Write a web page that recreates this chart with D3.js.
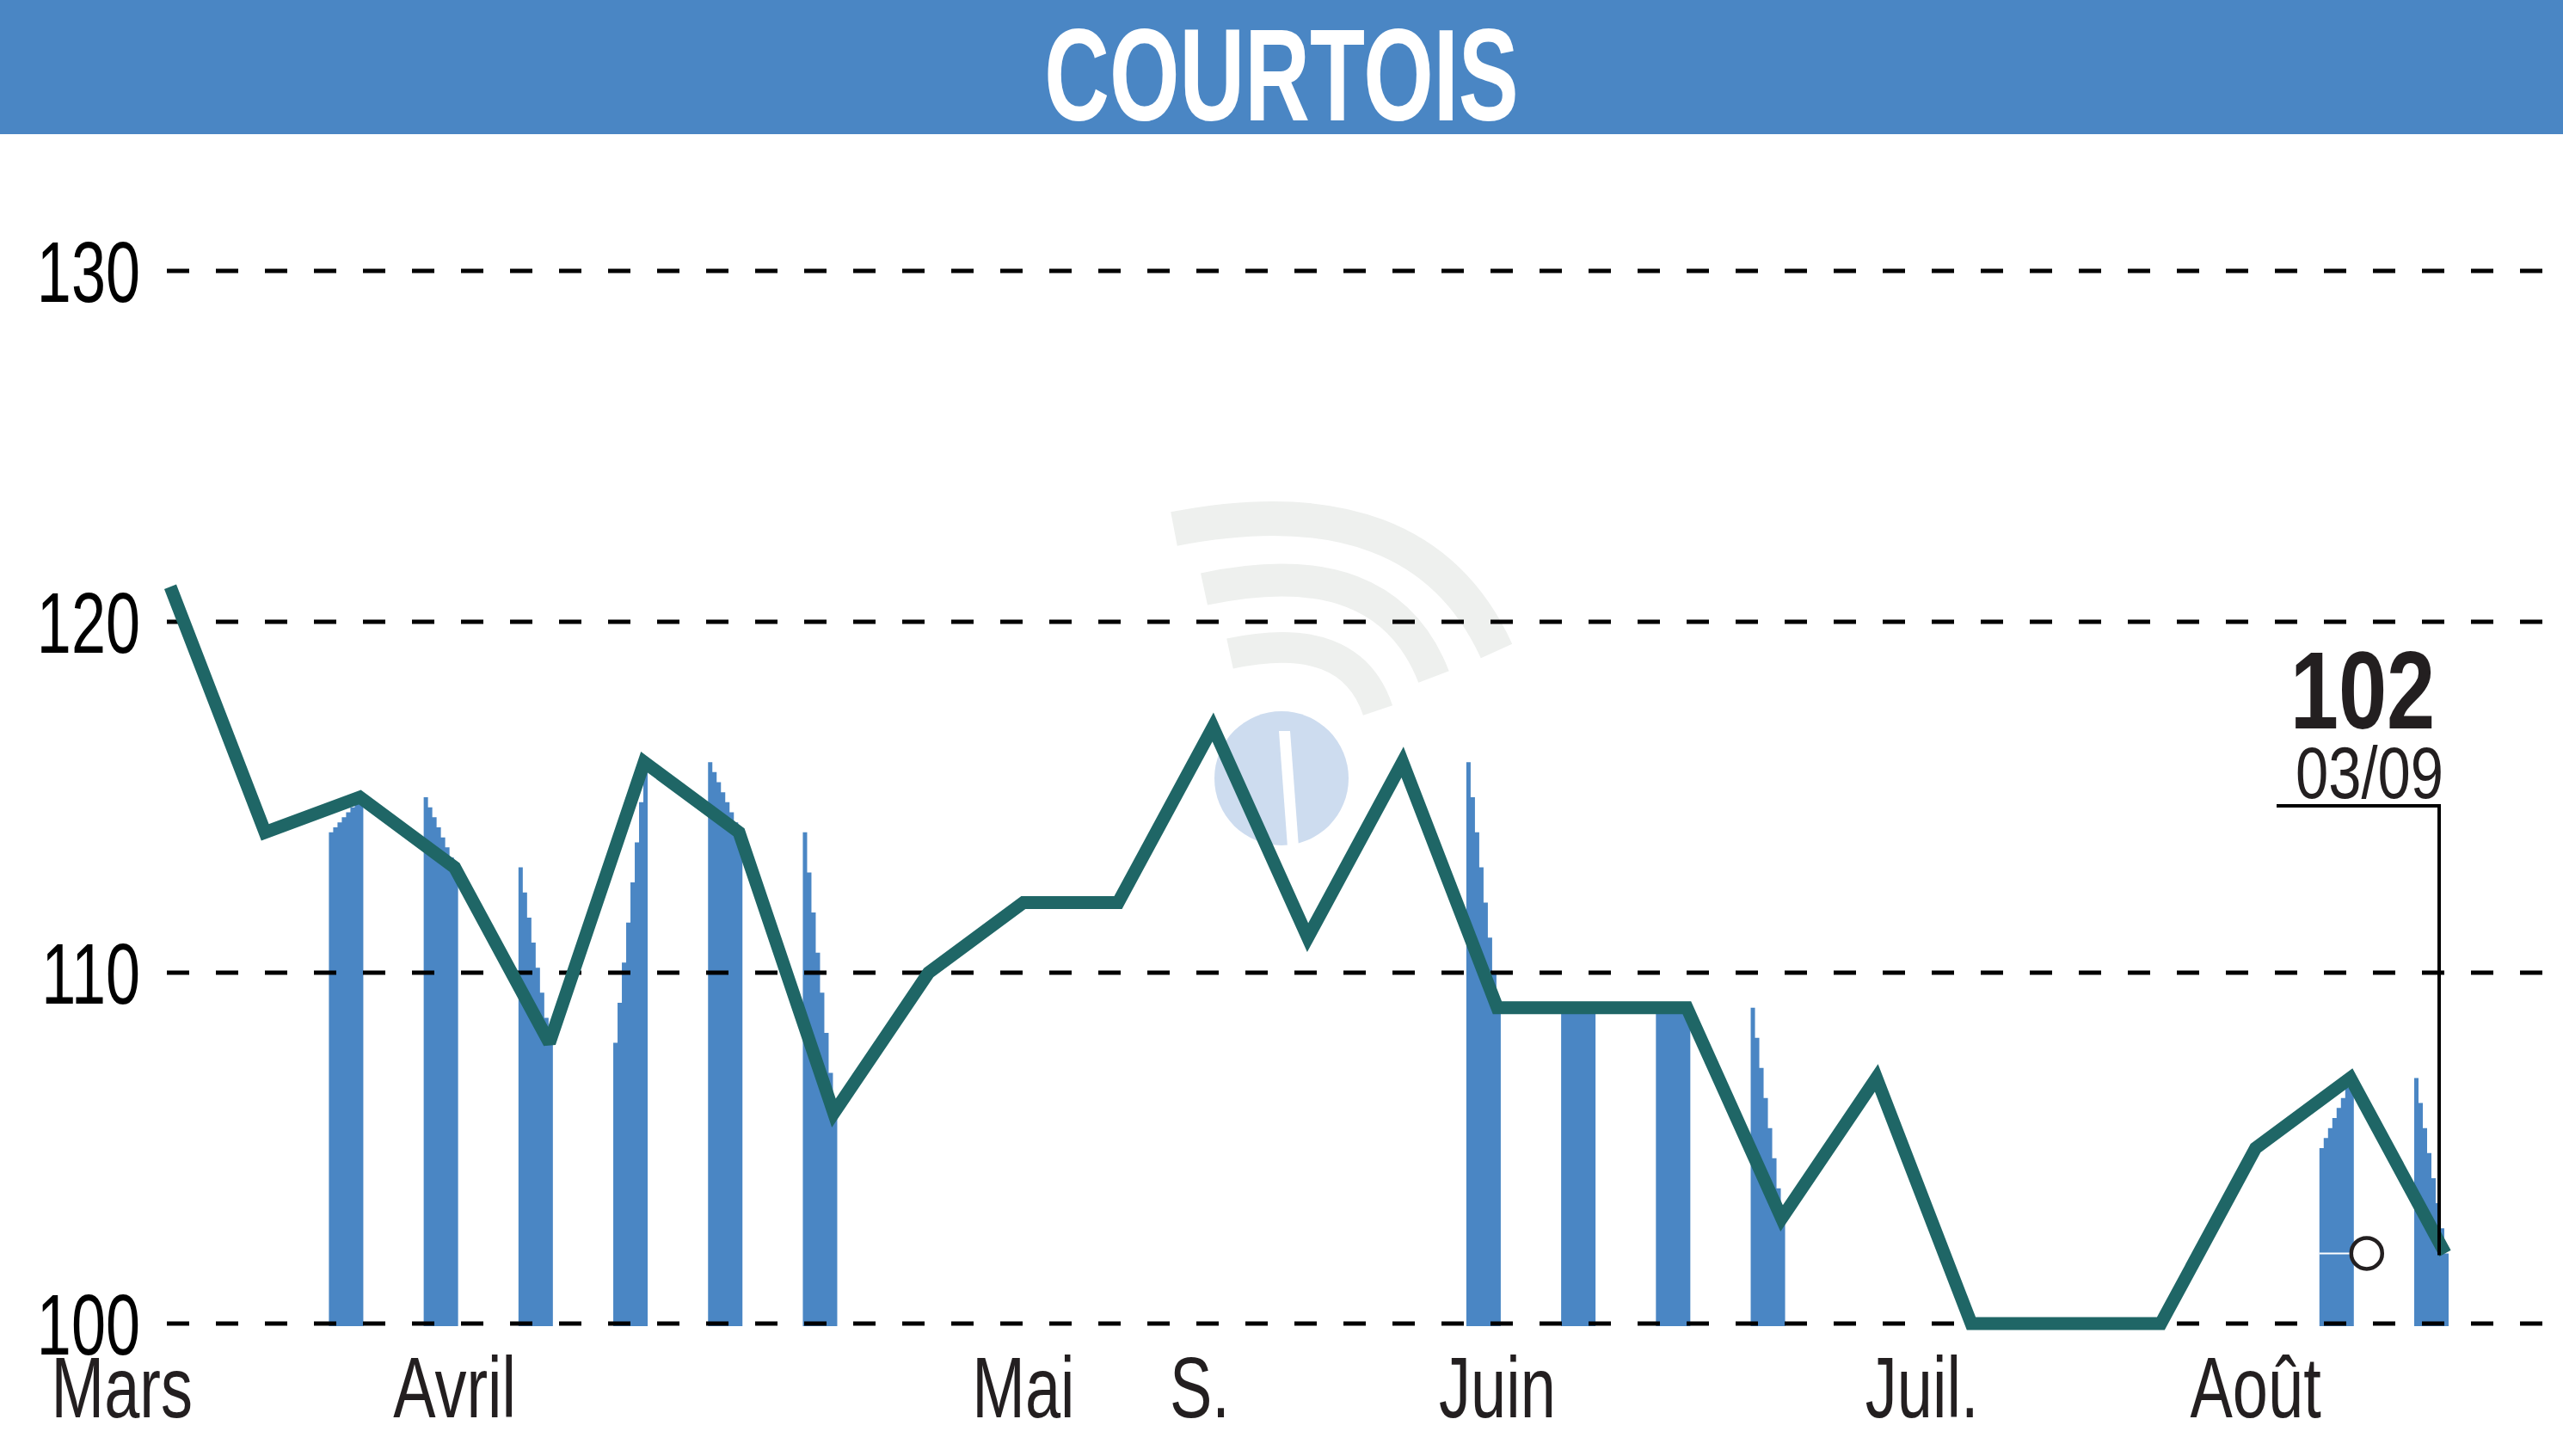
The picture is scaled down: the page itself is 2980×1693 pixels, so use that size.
<!DOCTYPE html>
<html>
<head>
<meta charset="utf-8">
<script src="https://cdn.jsdelivr.net/npm/d3@7"></script>
<style>
  html, body { margin: 0; padding: 0; background: #fff; }
  svg { display: block; }
</style>
</head>
<body>
<script>
// ---- data ----
const title = "COURTOIS";
const values = [121, 114, 115, 113, 108, 116, 114, 106, 110, 112, 112, 117, 111, 116, 109, 109, 109, 103, 107, 100, 100, 100, 105, 107, 102];
const barIndices = [2, 3, 4, 5, 6, 7, 14, 15, 16, 17, 23, 24];
const yTicks = [100, 110, 120, 130];
const xLabels = ["Mars", "Avril", "Mai", "S.", "Juin", "Juil.", "Août"];
const xLabelPos = [-0.51, 3, 9, 10.86, 14, 18.48, 22];
const lastValueLabel = "102";
const lastDateLabel = "03/09";

// ---- layout ----
const W = 2980, H = 1693;
const blue = "#4a86c4", teal = "#1f6666";
const svg = d3.select("body").append("svg").attr("width", W).attr("height", H);

const x = d3.scaleLinear().domain([0, values.length - 1]).range([198, 2843]);
const y = d3.scaleLinear().domain([100, 130]).range([1539, 315]);

// header
svg.append("rect").attr("x", 0).attr("y", 0).attr("width", W).attr("height", 156).attr("fill", blue);
svg.append("text")
  .attr("transform", `translate(${W / 2},140) scale(0.69,1)`)
  .attr("text-anchor", "middle")
  .attr("font-family", "Liberation Sans, Arial, sans-serif")
  .attr("font-weight", "bold")
  .attr("font-size", 152)
  .attr("fill", "#fff")
  .text(title);

// watermark
const wm = svg.append("g");
[["M1365,615 Q1650,560 1740,757", 40], ["M1400,685 Q1610,640 1667,787", 38], ["M1430,760 Q1570,730 1602,826", 36]]
  .forEach(([d, w]) => wm.append("path").attr("d", d).attr("fill", "none")
    .attr("stroke", "#eef0ee").attr("stroke-width", w));
wm.append("circle").attr("cx", 1490).attr("cy", 905).attr("r", 78).attr("fill", "#cddcef");
wm.append("path").attr("d", "M1487,850 L1500,850 L1510,985 L1497,985 Z").attr("fill", "#fff");

// bars (stepped tops ramping from previous value to current value)
const steps = 8;
const barG = svg.append("g");
barIndices.forEach(i => {
  const prev = i > 0 ? values[i - 1] : values[i];
  const cur = values[i];
  const xl = x(i) - 36, xr = x(i) + 4, w = xr - xl;
  const base = y(100) + 3;
  let d = `M${xl},${base}`;
  for (let k = 0; k < steps; k++) {
    const v = prev + (cur - prev) * k / (steps - 1);
    const x0 = xl + w * k / steps, x1 = xl + w * (k + 1) / steps;
    d += ` L${x0},${y(v)} L${x1},${y(v)}`;
  }
  d += ` L${xr},${base} Z`;
  barG.append("path").attr("d", d).attr("fill", blue);
});

// grid lines
const grid = svg.append("g");
yTicks.forEach(t => {
  grid.append("line")
    .attr("x1", 194).attr("x2", W)
    .attr("y1", y(t)).attr("y2", y(t))
    .attr("stroke", "#000").attr("stroke-width", 5)
    .attr("stroke-dasharray", "26,31");
  grid.append("text")
    .attr("transform", `translate(163,${y(t) + 36}) scale(0.72,1)`)
    .attr("text-anchor", "end")
    .attr("font-family", "Liberation Sans, Arial, sans-serif")
    .attr("font-size", 100)
    .attr("fill", "#000")
    .text(t);
});

// x labels
xLabels.forEach((lab, k) => {
  svg.append("text")
    .attr("transform", `translate(${x(xLabelPos[k])},1648) scale(0.74,1)`)
    .attr("text-anchor", "middle")
    .attr("font-family", "Liberation Sans, Arial, sans-serif")
    .attr("font-size", 100)
    .attr("fill", "#231f20")
    .text(lab);
});

// price line
const line = d3.line().x((d, i) => x(i)).y(d => y(d));
svg.append("path")
  .datum(values)
  .attr("d", line)
  .attr("fill", "none")
  .attr("stroke", teal)
  .attr("stroke-width", 15)
  .attr("stroke-linejoin", "miter")
  .attr("stroke-miterlimit", 2.5);

// last value marker
const li = values.length - 1;
const lastV = values[li];
const cx = x(li - 1) + 19;
svg.append("line")
  .attr("x1", x(li - 1) - 36).attr("x2", cx)
  .attr("y1", y(lastV)).attr("y2", y(lastV))
  .attr("stroke", "#fff").attr("stroke-width", 2);
svg.append("circle")
  .attr("cx", cx).attr("cy", y(lastV)).attr("r", 18)
  .attr("fill", "#fff").attr("stroke", "#231f20").attr("stroke-width", 4.5);

// callout
const vx = x(li) - 7;
svg.append("path")
  .attr("d", `M${x(li) - 196},937 L${vx},937 L${vx},${y(lastV) + 2}`)
  .attr("fill", "none").attr("stroke", "#000").attr("stroke-width", 4);
svg.append("text")
  .attr("transform", `translate(2747,847) scale(0.79,1)`)
  .attr("text-anchor", "middle")
  .attr("font-family", "Liberation Sans, Arial, sans-serif")
  .attr("font-weight", "bold")
  .attr("font-size", 128)
  .attr("fill", "#231f20")
  .text(lastValueLabel);
svg.append("text")
  .attr("transform", `translate(2755,928) scale(0.8,1)`)
  .attr("text-anchor", "middle")
  .attr("font-family", "Liberation Sans, Arial, sans-serif")
  .attr("font-size", 86)
  .attr("fill", "#231f20")
  .text(lastDateLabel);
</script>
</body>
</html>
